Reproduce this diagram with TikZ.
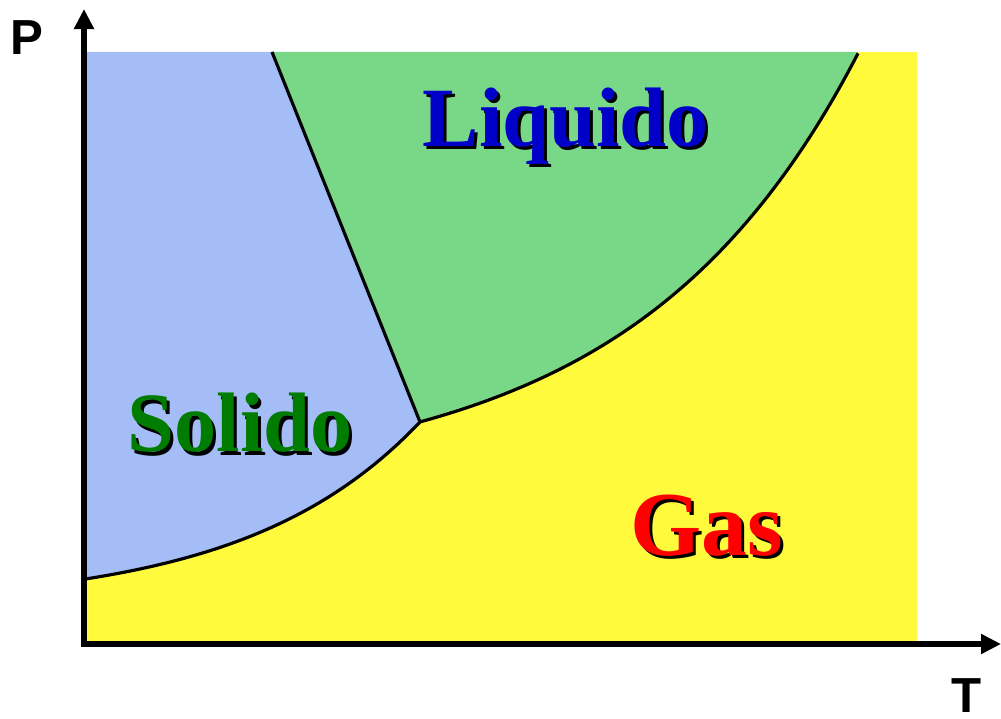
\documentclass[tikz,border=0pt]{standalone}
\usepackage{fontspec}
\setmainfont{Liberation Serif}
\newfontfamily\axisfont{Liberation Sans}
\usetikzlibrary{arrows.meta}
\definecolor{solidblue}{RGB}{164,189,246}
\definecolor{liqgreen}{RGB}{121,216,136}
\definecolor{gasyellow}{RGB}{255,250,60}
\definecolor{liqtext}{RGB}{0,0,200}
\definecolor{soltext}{RGB}{0,125,0}
\definecolor{gastext}{RGB}{255,0,0}
\tikzset{
  boundary/.style={draw=black, line width=0.9pt, line join=round},
  axisline/.style={draw=black, line width=1.7pt, -{Triangle[length=0.2cm,width=0.19cm]}},
  phase/.style={inner sep=0pt, anchor=base west, font=\fontsize{24pt}{29pt}\selectfont\bfseries},
  gasphase/.style={phase, font=\fontsize{26pt}{31pt}\selectfont\bfseries},
  axislabel/.style={inner sep=0pt, anchor=base, font=\axisfont\fontsize{14pt}{17pt}\selectfont\bfseries},
  declare function={
    lg(\t)=640-(162.4+80.4*exp(0.0046*(\t-500)))-8*(\t-420)/438;
    sg(\t)=640-(37+181*exp(0.0058*(\t-420)))+2*(420-\t)/334;
  }
}
\begin{document}
\begin{tikzpicture}[x=0.01cm,y=-0.01cm]
\useasboundingbox (0,0) rectangle (1001,719);
\coordinate (tp) at (420,422);
\coordinate (slTop) at (272,52);
\coordinate (lgTop) at (858,52);
\coordinate (sgLeft) at (86,579);
% regions
\fill[gasyellow] (86,52) rectangle (917,641);
\fill[solidblue] (86,52) -- (slTop) -- (tp) -- plot[domain=420:86, samples=60] ({\x},{sg(\x)}) -- cycle;
\fill[liqgreen] (slTop) -- (lgTop) -- plot[domain=858:420, samples=80] ({\x},{lg(\x)}) -- cycle;
% boundaries
\draw[boundary] (slTop) -- (tp);
\draw[boundary] plot[domain=86:420, samples=60] ({\x},{sg(\x)});
\draw[boundary] plot[domain=420:858, samples=80] ({\x},{lg(\x)});
% axes
\coordinate (origin) at (84,644);
\coordinate (pEnd) at (84,9);
\coordinate (tEnd) at (1001,644);
\draw[axisline] ([yshift=-0.03cm]origin) -- (pEnd);
\draw[axisline] ([xshift=-0.03cm]origin) -- (tEnd);
\node[axislabel] (P) at (27,55) {P};
\node[axislabel] (T) at (967,712) {T};
% phase labels with shadows
\node[phase, text=black] (liqS) at (425,150) {Liquido};
\node[phase, text=liqtext] (liq) at (422,147) {Liquido};
\node[phase, text=black] (solS) at (130,455) {Solido};
\node[phase, text=soltext] (sol) at (127,452) {Solido};
\node[gasphase, text=black] (gasS) at (633,558) {Gas};
\node[gasphase, text=gastext] (gas) at (630,555) {Gas};
\end{tikzpicture}
\end{document}
